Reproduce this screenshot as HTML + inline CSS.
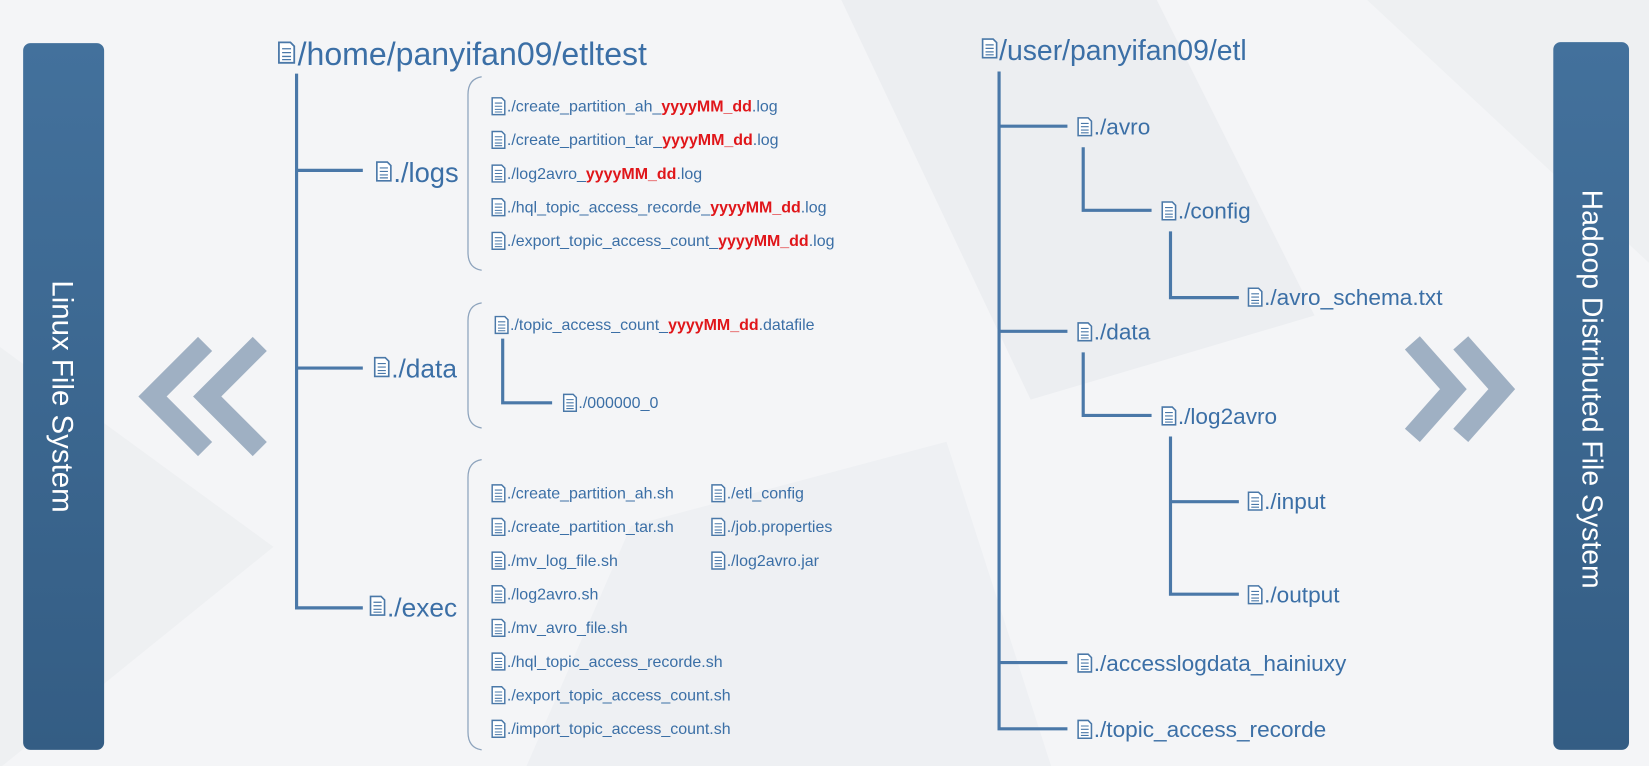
<!DOCTYPE html>
<html><head><meta charset="utf-8"><style>
body{margin:0;width:1649px;height:766px;overflow:hidden;background:#f4f5f7;font-family:"Liberation Sans",sans-serif}
</style></head><body>
<svg width="1649" height="766" viewBox="0 0 1568 728.35" xmlns="http://www.w3.org/2000/svg" style="display:block">
<defs>
<linearGradient id="bx" x1="0" y1="0" x2="0" y2="1"><stop offset="0" stop-color="#43719c"/><stop offset="1" stop-color="#345d84"/></linearGradient>
<symbol id="ic" viewBox="0 0 14 18"><path d="M1 1H10L13 4V17H1Z" fill="#fff" stroke="#4a78a8" stroke-width="1.4"/><path d="M3.5 6H10.5M3.5 9H10.5M3.5 12H10.5M3.5 14.5H10.5" stroke="#4a78a8" stroke-width="1"/></symbol>
</defs>
<rect width="1568" height="730" fill="#f4f5f7"/>
<polygon points="0,330 260,520 0,730" fill="#eef0f2"/>
<polygon points="800,0 1100,0 1250,300 980,380" fill="#eceef1"/>
<polygon points="600,500 900,420 1000,730 500,730" fill="#eef0f3"/>
<polygon points="1300,0 1568,0 1568,250" fill="#eef0f2"/>
<rect x="22" y="41" width="77" height="672" rx="7" fill="url(#bx)"/>
<rect x="1477" y="40" width="72" height="673" rx="7" fill="url(#bx)"/>
<text transform="translate(50,377) rotate(90)" text-anchor="middle" fill="#fff" font-size="28">Linux File System</text>
<text transform="translate(1505,370) rotate(90)" text-anchor="middle" fill="#fff" font-size="27">Hadoop Distributed File System</text>
<g fill="none" stroke="#9fb0c3" stroke-width="19">
<polyline points="195,327 145,377 195,427"/><polyline points="247,327 197,377 247,427"/>
<polyline points="1343,326 1382,370 1343,414"/><polyline points="1389,326 1428,370 1389,414"/>
</g>
<g stroke="#4a78a8" stroke-width="3" fill="none">
<path d="M282 70V578H345M282 162H345M282 350H345"/>
<path d="M478 322V383H525"/>
<path d="M950 68V693H1015M950 120H1015M950 315H1015M950 630H1015"/>
<path d="M1030 140V200H1095M1113 220V283H1178M1030 335V395H1095M1113 415V565H1178M1113 477H1178"/>
</g>
<g stroke="#8ea4bd" stroke-width="1.2" fill="none">
<path d="M458 73Q445 75 445 90V240Q445 255 458 257"/>
<path d="M458 288Q445 290 445 305V390Q445 405 458 407"/>
<path d="M458 437Q445 439 445 454V696Q445 711 458 713"/>
</g>
<g fill="#3b6fa6">
<use href="#ic" x="264" y="39" width="17" height="22"/>
<text x="283" y="62" font-size="30.5">/home/panyifan09/etltest</text>
<use href="#ic" x="933" y="36" width="16" height="20"/>
<text x="950" y="57" font-size="27">/user/panyifan09/etl</text>
<use href="#ic" x="357" y="153" width="16" height="20"/><text x="374" y="173" font-size="26">./logs</text>
<use href="#ic" x="355" y="339" width="16" height="20"/><text x="372" y="359" font-size="25">./data</text>
<use href="#ic" x="351" y="566" width="16" height="20"/><text x="368" y="586" font-size="25">./exec</text>
<g font-size="15.2">
<use href="#ic" x="467" y="92" width="14" height="18"/><text x="482" y="106">./create_partition_ah_<tspan fill="#e0161a" font-weight="bold">yyyyMM_dd</tspan>.log</text>
<use href="#ic" x="467" y="124" width="14" height="18"/><text x="482" y="138">./create_partition_tar_<tspan fill="#e0161a" font-weight="bold">yyyyMM_dd</tspan>.log</text>
<use href="#ic" x="467" y="156" width="14" height="18"/><text x="482" y="170">./log2avro_<tspan fill="#e0161a" font-weight="bold">yyyyMM_dd</tspan>.log</text>
<use href="#ic" x="467" y="188" width="14" height="18"/><text x="482" y="202">./hql_topic_access_recorde_<tspan fill="#e0161a" font-weight="bold">yyyyMM_dd</tspan>.log</text>
<use href="#ic" x="467" y="220" width="14" height="18"/><text x="482" y="234">./export_topic_access_count_<tspan fill="#e0161a" font-weight="bold">yyyyMM_dd</tspan>.log</text>
<use href="#ic" x="470" y="300" width="14" height="18"/><text x="485" y="314">./topic_access_count_<tspan fill="#e0161a" font-weight="bold">yyyyMM_dd</tspan>.datafile</text>
<use href="#ic" x="535" y="374" width="14" height="18"/><text x="550" y="388">./000000_0</text>
<use href="#ic" x="467" y="460" width="14" height="18"/><text x="482" y="474">./create_partition_ah.sh</text>
<use href="#ic" x="467" y="492" width="14" height="18"/><text x="482" y="506">./create_partition_tar.sh</text>
<use href="#ic" x="467" y="524" width="14" height="18"/><text x="482" y="538">./mv_log_file.sh</text>
<use href="#ic" x="467" y="556" width="14" height="18"/><text x="482" y="570">./log2avro.sh</text>
<use href="#ic" x="467" y="588" width="14" height="18"/><text x="482" y="602">./mv_avro_file.sh</text>
<use href="#ic" x="467" y="620" width="14" height="18"/><text x="482" y="634">./hql_topic_access_recorde.sh</text>
<use href="#ic" x="467" y="652" width="14" height="18"/><text x="482" y="666">./export_topic_access_count.sh</text>
<use href="#ic" x="467" y="684" width="14" height="18"/><text x="482" y="698">./import_topic_access_count.sh</text>
<use href="#ic" x="676" y="460" width="14" height="18"/><text x="691" y="474">./etl_config</text>
<use href="#ic" x="676" y="492" width="14" height="18"/><text x="691" y="506">./job.properties</text>
<use href="#ic" x="676" y="524" width="14" height="18"/><text x="691" y="538">./log2avro.jar</text>
</g>
<g font-size="21.5">
<use href="#ic" x="1024" y="111" width="15" height="19"/><text x="1040" y="128">./avro</text>
<use href="#ic" x="1104" y="191" width="15" height="19"/><text x="1120" y="208">./config</text>
<use href="#ic" x="1186" y="273" width="15" height="19"/><text x="1202" y="290">./avro_schema.txt</text>
<use href="#ic" x="1024" y="306" width="15" height="19"/><text x="1040" y="323">./data</text>
<use href="#ic" x="1104" y="386" width="15" height="19"/><text x="1120" y="403">./log2avro</text>
<use href="#ic" x="1186" y="467" width="15" height="19"/><text x="1202" y="484">./input</text>
<use href="#ic" x="1186" y="556" width="15" height="19"/><text x="1202" y="573">./output</text>
<use href="#ic" x="1024" y="621" width="15" height="19"/><text x="1040" y="638">./accesslogdata_hainiuxy</text>
<use href="#ic" x="1024" y="684" width="15" height="19"/><text x="1040" y="701">./topic_access_recorde</text>
</g>
</g>
</svg>
</body></html>
